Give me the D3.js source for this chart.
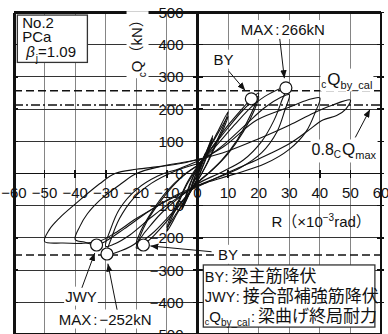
<!DOCTYPE html>
<html><head><meta charset="utf-8">
<script src="https://cdn.jsdelivr.net/npm/d3@7"></script>
<style>
body{margin:0;background:#fff}
svg{display:block}
text{font-family:"Liberation Sans","Noto Sans CJK JP",Arial,sans-serif;fill:#111}
</style>
</head><body>
<svg id="c" width="388" height="334"></svg>
<script>
// ---------------- data ----------------
const xTicks = [-60,-50,-40,-30,-20,-10,0,10,20,30,40,50,60];
const yTicks = [-500,-400,-300,-200,-100,0,100,200,300,400,500];
const qByCal = 257;      // cQby_cal
const qMax = 266;        // cQmax
const qMaxRatio = 0.8;

// hysteresis loops [R (x10^-3 rad), Q (kN)]
const loop025a = [[0,0],[1.3,30],[2.5,62],[1.8,40],[0.5,5],[-1.3,-28],[-2.5,-58],[-1.8,-36],[-0.5,-3],[0,2]];
const loop025b = [[0,2],[1.4,33],[2.5,58],[1.7,35],[0.4,4],[-1.4,-30],[-2.5,-55],[-1.7,-32],[-0.4,0],[0,3]];
const loop05a  = [[0,3],[2.5,58],[5,118],[4.2,92],[2.5,45],[0.5,-5],[-2.5,-58],[-5,-112],[-4.2,-85],[-2.5,-38],[-0.5,8],[0,10]];
const loop05b  = [[0,10],[2.6,62],[5,110],[4.1,82],[2.4,36],[0.3,-10],[-2.6,-62],[-5,-106],[-4.1,-78],[-2.4,-30],[-0.3,10],[0,12]];
const loop10a = [[0,12],[3,62],[6.5,128],[10,192],[9,160],[6.5,105],[3.5,40],[0.5,-15],[-3,-65],[-6.5,-122],[-10,-180],[-9,-150],[-6.5,-98],[-3.5,-35],[0,18]];
const loop10b = [[0,18],[3.5,72],[7,130],[10,178],[8.8,145],[6,88],[3,28],[0,-22],[-3.5,-75],[-7,-125],[-10,-168],[-8.8,-135],[-6,-80],[-3,-22],[0,22]];
const loop20a = [[0,22],[5,85],[10,150],[14.5,200],[17.6,232],[20,250],[19,218],[16.5,165],[13,105],[8,42],[4,5],[0,-28],[-5,-88],[-10,-148],[-14.5,-195],[-17.7,-222],[-20,-232],[-19,-200],[-16.5,-148],[-12,-85],[-7,-28],[-3,5],[0,24]];
const loop20b = [[0,24],[5,82],[10,142],[15,198],[20,240],[18.5,195],[15,130],[10,62],[5,12],[0,-30],[-5,-85],[-10,-140],[-15,-188],[-20,-220],[-18.5,-178],[-15,-120],[-10,-55],[-5,-8],[0,25]];
const loop30a = [[0,25],[6,85],[12,150],[18,210],[23,245],[28.9,266],[27.5,225],[25,165],[21,100],[15,42],[8,5],[0,-32],[-6,-75],[-12,-125],[-17,-180],[-20,-215],[-25,-240],[-29.6,-250],[-28.3,-205],[-25.5,-140],[-21,-78],[-15,-30],[-8,5],[0,30]];
const loop30b = [[0,30],[8,85],[15,145],[22,205],[27,235],[30,245],[28.5,195],[26,130],[21,65],[14,18],[6,-15],[0,-38],[-8,-85],[-15,-135],[-22,-190],[-27,-218],[-30,-226],[-28.5,-175],[-25.5,-110],[-20,-50],[-13,-8],[-6,15],[0,38]];
const loop40  = [[0,38],[8.5,83],[19.4,166],[30.3,207],[36,228],[40,235],[38.5,190],[35.5,130],[30,75],[22,30],[12,-2],[4,-25],[0,-38],[-8,-72],[-16,-118],[-24,-172],[-30,-210],[-33,-222],[-37,-213],[-40,-205],[-38.5,-165],[-36,-125],[-31,-75],[-25,-32],[-20,0],[-12,22],[-5,34],[0,42]];
const loop50  = [[0,42],[10,70],[20,108],[30,150],[38,188],[44,212],[50,228],[48.5,200],[45.5,180],[41,166],[36,132],[30.3,94],[20,45],[10.7,6],[0,-41],[-10,-85],[-20,-140],[-27,-185],[-32,-210],[-38,-217],[-44,-216],[-50,-211],[-48.5,-175],[-45,-137],[-40,-95],[-32,-32],[-27,0],[-20,13],[-12,22],[-5,32],[0,44],[4,52]];
const loops = [loop025a, loop025b, loop05a, loop05b, loop10a, loop10b, loop20a, loop20b, loop30a, loop30b, loop40, loop50];

// event points: BY+, MAX+, BY-, MAX-, JWY
const eventPoints = [[17.6,232],[28.9,266],[-17.7,-222],[-29.6,-250],[-33,-222]];

// ---------------- drawing ----------------
const svg = d3.select("#c");
const x = d3.scaleLinear().domain([-60,60]).range([14,381]);
const y = d3.scaleLinear().domain([-500,500]).range([334.5,12.5]);

const defs = svg.append("defs");
defs.append("marker").attr("id","ah").attr("viewBox","0 0 10 8").attr("refX",10).attr("refY",4)
  .attr("markerWidth",8).attr("markerHeight",6.5).attr("markerUnits","userSpaceOnUse").attr("orient","auto")
  .append("path").attr("d","M0,0L10,4L0,8Z").attr("fill","#111");

// grid
const grid = svg.append("g").attr("shape-rendering","crispEdges");
grid.selectAll("line.v").data(xTicks).join("line").attr("class","v")
  .attr("x1",d=>x(d)).attr("x2",d=>x(d)).attr("y1",y(500)).attr("y2",y(-500))
  .attr("stroke","#858585").attr("stroke-width",1);
grid.selectAll("line.h").data(yTicks).join("line").attr("class","h")
  .attr("x1",x(-60)).attr("x2",x(60)).attr("y1",d=>y(d)).attr("y2",d=>y(d))
  .attr("stroke","#333").attr("stroke-width",1);

// reference lines
svg.append("line").attr("x1",x(-60)).attr("x2",x(60)).attr("y1",y(qByCal)).attr("y2",y(qByCal))
  .attr("stroke","#111").attr("stroke-width",1.5).attr("stroke-dasharray","8,4");
svg.append("line").attr("x1",x(-60)).attr("x2",x(60)).attr("y1",y(-qByCal+4)).attr("y2",y(-qByCal+4))
  .attr("stroke","#111").attr("stroke-width",1.5).attr("stroke-dasharray","8,4");
svg.append("line").attr("x1",x(-60)).attr("x2",x(60)).attr("y1",y(qMax*qMaxRatio)).attr("y2",y(qMax*qMaxRatio))
  .attr("stroke","#111").attr("stroke-width",1.5).attr("stroke-dasharray","9,3,2,3");

// axes through origin
const ax = svg.append("g").attr("shape-rendering","crispEdges");
ax.append("line").attr("x1",x(0)).attr("x2",x(0)).attr("y1",y(500)).attr("y2",y(-500)).attr("stroke","#111").attr("stroke-width",2.5);
ax.append("line").attr("x1",x(-60)).attr("x2",x(60)).attr("y1",y(0)).attr("y2",y(0)).attr("stroke","#111").attr("stroke-width",1.5);
ax.selectAll("line.yt").data(yTicks).join("line").attr("class","yt")
  .attr("x1",x(0)-5).attr("x2",x(0)+5).attr("y1",d=>y(d)).attr("y2",d=>y(d)).attr("stroke","#111").attr("stroke-width",1.5);
ax.selectAll("line.xt").data(xTicks).join("line").attr("class","xt")
  .attr("x1",d=>x(d)).attr("x2",d=>x(d)).attr("y1",y(0)-4).attr("y2",y(0)+4).attr("stroke","#111").attr("stroke-width",1.5);
ax.selectAll("line.lt").data(yTicks).join("line").attr("class","lt")
  .attr("x1",x(-60)).attr("x2",x(-60)+4).attr("y1",d=>y(d)).attr("y2",d=>y(d)).attr("stroke","#111").attr("stroke-width",1.5);
ax.selectAll("line.rt").data(yTicks).join("line").attr("class","rt")
  .attr("x1",x(60)-4).attr("x2",x(60)+3).attr("y1",d=>y(d)).attr("y2",d=>y(d)).attr("stroke","#111").attr("stroke-width",1.5);
// frame
ax.append("line").attr("x1",x(-60)).attr("x2",x(-60)).attr("y1",y(500)).attr("y2",y(-500)).attr("stroke","#111").attr("stroke-width",3);
ax.append("line").attr("x1",x(60)).attr("x2",x(60)).attr("y1",y(500)).attr("y2",y(-500)).attr("stroke","#111").attr("stroke-width",2.5);
ax.append("line").attr("x1",x(-60)).attr("x2",x(60)).attr("y1",y(500)).attr("y2",y(500)).attr("stroke","#111").attr("stroke-width",2.5);
ax.append("line").attr("x1",x(-60)).attr("x2",x(60)).attr("y1",y(-500)).attr("y2",y(-500)).attr("stroke","#111").attr("stroke-width",2.5);

// curves
const line = d3.line().x(d=>x(d[0])).y(d=>y(d[1])).curve(d3.curveCatmullRom.alpha(0.5));
svg.append("g").selectAll("path").data(loops).join("path")
  .attr("d",line).attr("fill","none").attr("stroke","#111").attr("stroke-width",1.1).attr("stroke-linejoin","round");

// tick labels
const fmt = d => d<0 ? "\u2212"+Math.abs(d) : ""+d;
svg.append("g").selectAll("text").data(yTicks).join("text")
  .attr("x",x(0)-14).attr("y",d=>y(d)+5.5).attr("text-anchor","end").attr("font-size",15).text(fmt);
svg.append("g").selectAll("text").data(xTicks).join("text")
  .attr("x",d=>x(d)).attr("y",y(0)+24.5).attr("text-anchor","middle").attr("font-size",15).text(fmt);

// event circles
svg.append("g").selectAll("circle").data(eventPoints).join("circle")
  .attr("cx",d=>x(d[0])).attr("cy",d=>y(d[1])).attr("r",6)
  .attr("fill","#fff").attr("stroke","#111").attr("stroke-width",1.2);

// rich text helper (positions in data units)
function rich(parts, R, Q, opts={}) {
  const size = opts.size || 15;
  const g = svg.append("g");
  const t = g.append("text").attr("x",x(R)).attr("y",y(Q)).attr("font-size",size)
    .attr("text-anchor",opts.anchor||"start");
  if (opts.rotate) t.attr("transform",`rotate(${opts.rotate},${x(R)},${y(Q)})`);
  let cur = 0;
  parts.forEach(p=>{
    const shift = p.shift||0;
    const s = t.append("tspan").text(p.t).attr("dy",shift-cur);
    cur = shift;
    if (p.size) s.attr("font-size",p.size);
    if (p.italic) s.attr("font-style","italic");
    if (p.dx) s.attr("dx",p.dx);
  });
  if (opts.bg) {
    const b = t.node().getBBox();
    const pad = opts.pad==null?1:opts.pad;
    const r = g.insert("rect",()=>t.node()).attr("x",b.x-pad).attr("y",b.y-pad)
      .attr("width",b.width+2*pad).attr("height",b.height+2*pad).attr("fill","#fff");
    if (opts.rotate) r.attr("transform",`rotate(${opts.rotate},${x(R)},${y(Q)})`);
  }
  return t;
}
function arrow(R1,Q1,R2,Q2){
  svg.append("line").attr("x1",x(R1)).attr("y1",y(Q1)).attr("x2",x(R2)).attr("y2",y(Q2))
    .attr("stroke","#111").attr("stroke-width",1).attr("marker-end","url(#ah)");
}
function box(R1,Q1,R2,Q2){
  svg.append("rect").attr("x",x(R1)).attr("y",y(Q1)).attr("width",x(R2)-x(R1)).attr("height",y(Q2)-y(Q1))
    .attr("fill","#fff").attr("stroke","#333").attr("stroke-width",1.3);
}

// specimen box
box(-58.9,492,-36.0,345);
rich([{t:"No.2"}], -57.3, 452, {size:15});
rich([{t:"PCa"}], -57.3, 409, {size:15});
rich([{t:"\u03B2",italic:true},{t:"j",size:10,shift:5,dx:1},{t:"=1.09",shift:0,dx:0}], -56, 362, {size:15});

// axis titles
rich([{t:"c",size:10,shift:4},{t:"Q\uFF08kN\uFF09",shift:0}], -18.3, 400, {size:15, rotate:-90, anchor:"middle", bg:true, pad:1});
rich([{t:"R\uFF08\u00D710"},{t:"\u22123",size:10,shift:-6},{t:"rad\uFF09",shift:0}], 24.2, -166, {size:15});

// annotations
rich([{t:"MAX"},{t:":",dx:2},{t:"266kN",dx:2}], 27.9, 430, {anchor:"middle", bg:true, pad:1});
arrow(26.9, 418, 28.4, 296);
rich([{t:"BY"}], 8.5, 338, {anchor:"middle", bg:true, pad:1});
arrow(10.2, 318, 15.6, 258);
rich([{t:"c",size:10,shift:3},{t:"Q",size:17,shift:0,dx:1},{t:"by_cal",size:11,shift:4,dx:0}], 40.5, 276, {bg:true, pad:1});
rich([{t:"0.8"},{t:"C",size:10,shift:3},{t:"Q",size:17,shift:0,dx:1},{t:"max",size:11,shift:4}], 37.3, 56, {size:16, bg:true, pad:1});
arrow(51.6, 112, 56.4, 199);

rich([{t:"BY"}], 10, -268, {anchor:"middle", bg:true, pad:1});
arrow(4.6, -243, -15.4, -225);
rich([{t:"JWY"}], -38.1, -398, {anchor:"middle", bg:true, pad:1});
arrow(-37.8, -355, -33.6, -247);
rich([{t:"MAX"},{t:":",dx:2},{t:"\u2212252kN",dx:2}], -30.2, -469, {anchor:"middle", bg:true, pad:1});
arrow(-26.3, -423, -29.3, -280);

// legend
box(1.9,-284,58.0,-477);
rich([{t:"BY"},{t:":",dx:1},{t:"梁主筋降伏",size:17,dx:3}], 2.4, -336, {size:14.5});
rich([{t:"JWY"},{t:":",dx:1},{t:"接合部補強筋降伏",size:17,dx:3}], 2.4, -398, {size:14.5});
rich([{t:"c",size:9,shift:3},{t:"Q",size:15,shift:0},{t:"by_cal",size:10,shift:4},{t:":",size:14.5,shift:0,dx:1},{t:"梁曲げ終局耐力",size:17,dx:3}], 2.4, -460, {size:14.5});
</script>
</body></html>
